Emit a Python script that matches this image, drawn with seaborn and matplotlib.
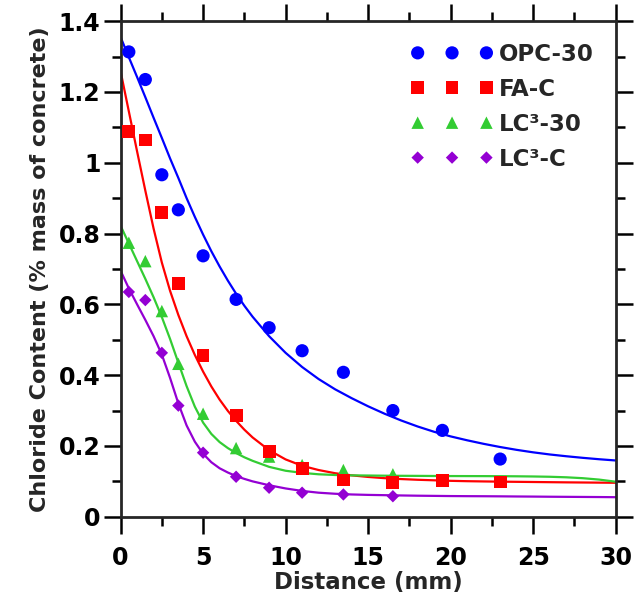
# Chloride profiles: measured points + fitted curves
import numpy as np
import pandas as pd
import seaborn as sns
import matplotlib.pyplot as plt
import matplotlib
from matplotlib.ticker import MultipleLocator, FuncFormatter

sns.set_style('ticks')
matplotlib.rcParams['font.family'] = ['DejaVu Sans']
matplotlib.rcParams['font.weight'] = 'bold'
matplotlib.rcParams['axes.labelweight'] = 'bold'

# measured points
dist_pts = [0.5, 1.5, 2.5, 3.5, 5, 7, 9, 11, 13.5, 16.5, 19.5, 23]
opc30_pts = [1.313, 1.235, 0.966, 0.867, 0.737, 0.614, 0.534, 0.469, 0.408, 0.300, 0.244, 0.163]
fac_pts = [1.088, 1.064, 0.859, 0.658, 0.455, 0.286, 0.185, 0.136, 0.104, 0.097, 0.102, 0.098]
lc30_pts = [0.774, 0.722, 0.581, 0.432, 0.291, 0.194, 0.170, 0.146, 0.132, 0.120]
lcc_pts = [0.635, 0.612, 0.463, 0.314, 0.181, 0.113, 0.082, 0.068, 0.063, 0.058]

# fitted curves
dist_fit = [0, 0.5, 1, 1.5, 2, 2.5, 3, 3.5, 4, 4.5, 5, 5.5, 6, 6.5, 7, 7.5, 8,
            9, 10, 11, 12, 13, 14, 15, 16, 17, 18, 19, 20, 21, 22, 23, 24, 25, 26,
            27, 28, 29, 30]
opc30_fit = [1.355, 1.298, 1.242, 1.185, 1.127, 1.070, 1.012, 0.957, 0.900, 0.847,
             0.797, 0.750, 0.707, 0.667, 0.630, 0.596, 0.565,
             0.510, 0.463, 0.423, 0.389, 0.360, 0.335, 0.312, 0.291, 0.272, 0.255,
             0.240, 0.227, 0.216, 0.206, 0.197, 0.189, 0.182, 0.176, 0.171, 0.1665,
             0.1625, 0.159]
fac_fit = [1.258, 1.145, 1.032, 0.921, 0.814, 0.718, 0.638, 0.570, 0.510, 0.457,
           0.410, 0.368, 0.331, 0.299, 0.271, 0.246, 0.224,
           0.188, 0.162, 0.144, 0.132, 0.123, 0.117, 0.1125, 0.109, 0.1065, 0.1045,
           0.103, 0.1015, 0.1005, 0.0998, 0.0992, 0.0987, 0.0982, 0.0977, 0.0972,
           0.0968, 0.0964, 0.096]
lc30_fit = [0.822, 0.772, 0.722, 0.672, 0.620, 0.564, 0.502, 0.435, 0.369, 0.311,
            0.266, 0.234, 0.211, 0.194, 0.180, 0.168, 0.158,
            0.141, 0.130, 0.124, 0.120, 0.118, 0.117, 0.1165, 0.116, 0.1157, 0.1155,
            0.1152, 0.115, 0.1149, 0.1148, 0.1146, 0.1143, 0.1138, 0.113, 0.1115,
            0.109, 0.105, 0.099]
lcc_fit = [0.695, 0.645, 0.600, 0.556, 0.510, 0.458, 0.392, 0.320, 0.258, 0.212,
           0.178, 0.154, 0.137, 0.125, 0.115, 0.107, 0.100,
           0.089, 0.080, 0.073, 0.068, 0.065, 0.063, 0.0618, 0.061, 0.0602, 0.0595,
           0.059, 0.0585, 0.0582, 0.058, 0.0577, 0.0573, 0.057, 0.0566, 0.0563,
           0.056, 0.0557, 0.0553]

labels = ['OPC-30', 'FA-C', 'LC³-30', 'LC³-C']
colors = ['#0000FF', '#FF0000', '#33CC33', '#9400D3']

fig = plt.figure(figsize=(6.38, 6.03), dpi=100)
ax = fig.add_axes([0.189, 0.143, 0.776, 0.822])

fits = [opc30_fit, fac_fit, lc30_fit, lcc_fit]
for f, c in zip(fits, colors):
    sns.lineplot(x=dist_fit, y=f, color=c, lw=1.6, ax=ax, sort=False, estimator=None)

n_lc = len(lc30_pts)
sets = [
    (dist_pts, opc30_pts, 'o', 90, 4),
    (dist_pts, fac_pts, 's', 85, 5),
    (dist_pts[:n_lc], lc30_pts, '^', 80, 4.5),
    (dist_pts[:n_lc], lcc_pts, 'D', 40, 4),
]
handles = []
for (x, y, m, s, z), c, lab in zip(sets, colors, labels):
    sns.scatterplot(x=x, y=y, marker=m, s=s, color=c, edgecolor='none', linewidth=0,
                    ax=ax, zorder=z, label=lab, legend=False)
    handles.append(ax.collections[-1])

ax.set_xlim(0, 30)
ax.set_ylim(0, 1.4)
ax.xaxis.set_major_locator(MultipleLocator(5))
ax.xaxis.set_minor_locator(MultipleLocator(2.5))
ax.yaxis.set_major_locator(MultipleLocator(0.2))
ax.yaxis.set_minor_locator(MultipleLocator(0.1))
ax.yaxis.set_major_formatter(FuncFormatter(lambda v, p: '%g' % round(v, 2)))

for sp in ax.spines.values():
    sp.set_visible(True)
    sp.set_linewidth(2)
ax.tick_params(which='both', direction='out', top=True, right=True, width=1.8, colors='black')
ax.tick_params(which='major', length=12, labelsize=17)
ax.tick_params(axis='x', which='major', pad=9)
ax.tick_params(axis='y', which='major', pad=2.5)
ax.tick_params(which='minor', length=6.5)
for t in ax.get_xticklabels() + ax.get_yticklabels():
    t.set_fontweight('bold')

ax.set_xlabel('Distance (mm)', fontsize=16.5, fontweight='bold', labelpad=1)
ax.set_ylabel('Chloride Content (% mass of concrete)', fontsize=16, fontweight='bold', labelpad=6)

ax.legend(handles, labels, scatterpoints=3, scatteryoffsets=[0.5], loc='upper right',
          frameon=False, handlelength=3.6, handletextpad=0.25, labelspacing=0.52,
          borderaxespad=0.55, prop={'size': 16.5, 'weight': 'bold'})

fig.savefig('out.png', dpi=100)
